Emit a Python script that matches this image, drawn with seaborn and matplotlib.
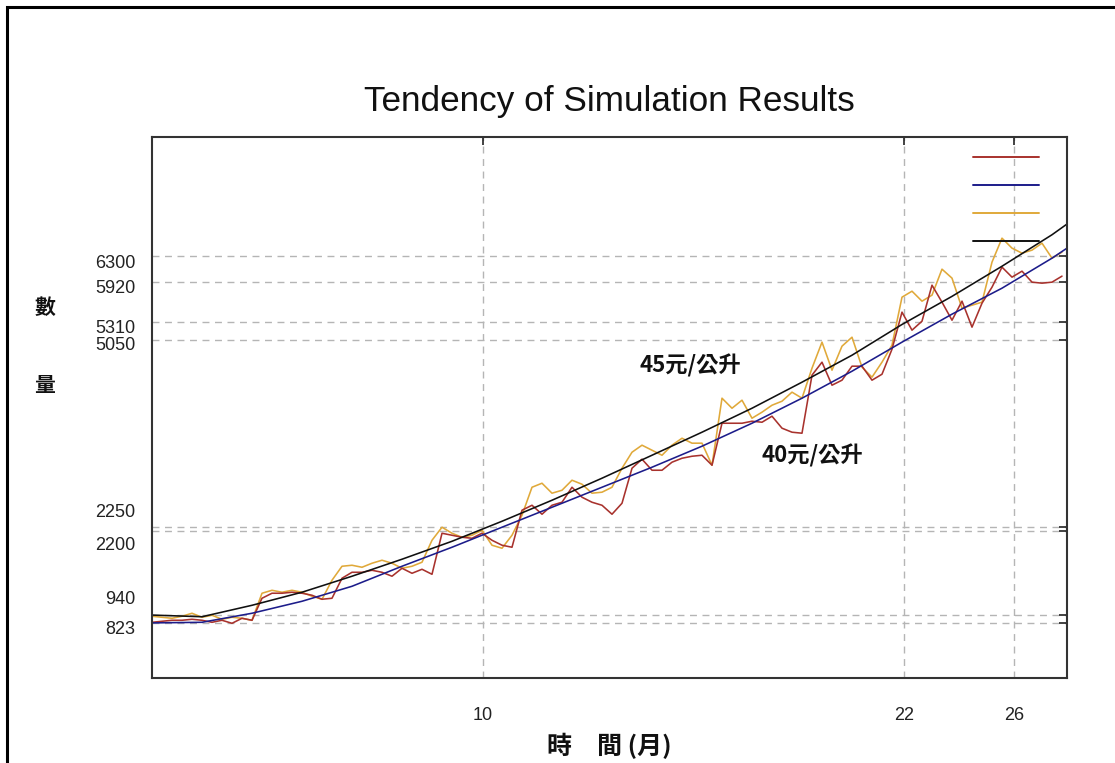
import matplotlib
matplotlib.use("Agg")
import matplotlib.pyplot as plt
import matplotlib.transforms as mtransforms
from matplotlib.lines import Line2D
from matplotlib.patches import Rectangle
import pandas as pd
import seaborn as sns

# time steps of the simulation
steps = list(range(92))

# simulated quantity at 40 and 45 元/公升
sim_40 = [832, 847, 862, 862, 877, 862, 832, 862, 817, 892,
          862, 1191, 1266, 1266, 1281, 1266, 1236, 1176, 1191, 1490,
          1579, 1579, 1609, 1579, 1520, 1639, 1564, 1624, 1549, 2162,
          2132, 2102, 2087, 2162, 2057, 1983, 1953, 2506, 2580, 2446,
          2580, 2625, 2849, 2700, 2625, 2580, 2446, 2610, 3133, 3268,
          3103, 3103, 3223, 3282, 3312, 3327, 3178, 3805, 3805, 3805,
          3835, 3820, 3910, 3731, 3671, 3656, 4523, 4717, 4373, 4448,
          4657, 4657, 4448, 4537, 4911, 5464, 5195, 5329, 5867, 5613,
          5344, 5628, 5240, 5598, 5837, 6136, 5987, 6076, 5912, 5897,
          5912, 6002]
sim_45 = [922, 907, 892, 922, 967, 907, 937, 877, 907, 892,
          862, 1266, 1310, 1281, 1310, 1281, 1221, 1176, 1460, 1669,
          1684, 1654, 1714, 1759, 1714, 1639, 1669, 1729, 2057, 2252,
          2162, 2102, 2132, 2207, 1983, 1938, 2132, 2431, 2849, 2909,
          2760, 2804, 2954, 2894, 2760, 2775, 2849, 3133, 3372, 3477,
          3402, 3327, 3477, 3581, 3507, 3507, 3178, 4179, 4029, 4149,
          3880, 3970, 4074, 4134, 4269, 4179, 4627, 5016, 4597, 4956,
          5090, 4642, 4493, 4717, 4971, 5688, 5777, 5628, 5718, 6106,
          5972, 5523, 5568, 5613, 6211, 6569, 6420, 6345, 6390, 6494,
          6270, 6360]

# fitted tendency curves
trend_steps = [0, 5, 10, 15, 20, 25, 30, 35, 40, 45,
               50, 55, 60, 65, 70, 75, 80, 85, 90, 91.5]
trend_40 = [823, 832, 967, 1146, 1370, 1669, 1953, 2252, 2550, 2849,
            3148, 3462, 3805, 4179, 4582, 5016, 5434, 5822, 6270, 6420]
trend_45 = [940, 915, 1086, 1281, 1520, 1774, 2042, 2341, 2655, 2984,
            3327, 3671, 4029, 4418, 4821, 5280, 5700, 6150, 6620, 6780]

# reference levels and month marks
y_levels = [823, 940, 2200, 2250, 5050, 5310, 5920, 6300]
y_labels = ["823", "940", "2200", "2250", "5050", "5310", "5920", "6300"]
month_steps = [33.1, 75.2, 86.2]
month_labels = ["10", "22", "26"]

COL_RED = "#a8322d"
COL_BLUE = "#1c1c8a"
COL_YELLOW = "#e0a93a"
COL_BLACK = "#101010"

sns.set_theme(style="white")
plt.rcParams["font.family"] = ["Liberation Sans", "Noto Sans CJK TC", "DejaVu Sans"]
CJK = ["Noto Sans CJK TC", "DejaVu Sans"]

fig = plt.figure(figsize=(11.15, 7.63), dpi=100)
fig.patch.set_facecolor("white")
ax = fig.add_axes([152 / 1115, 1 - 678 / 763, 915 / 1115, 541 / 763])

sim = pd.DataFrame({"step": steps, "q40": sim_40, "q45": sim_45})
trend = pd.DataFrame({"step": trend_steps, "t40": trend_40, "t45": trend_45})

sns.lineplot(data=sim, x="step", y="q45", color=COL_YELLOW, lw=1.15, ax=ax)
sns.lineplot(data=sim, x="step", y="q40", color=COL_RED, lw=1.15, ax=ax)
sns.lineplot(data=trend, x="step", y="t45", color=COL_BLACK, lw=1.15, ax=ax)
sns.lineplot(data=trend, x="step", y="t40", color=COL_BLUE, lw=1.15, ax=ax)

ax.set_xlim(0, 91.5)
ax.set_ylim(0, 8080)

ax.set_yticks(y_levels)
ax.set_yticklabels(y_labels)
ax.set_xticks(month_steps)
ax.set_xticklabels(month_labels)

ax.tick_params(axis="both", direction="in", length=6, width=1.2, color="#222222",
               top=True, right=True, labelsize=13, labelcolor="#222222")
ax.tick_params(axis="y", pad=12)
ax.tick_params(axis="x", pad=21)

# spread the crowded y labels apart (pixels, positive = downwards)
label_shift = [5, -18, 12.5, -17, 4, 4, 5, 5]
for lab, d in zip(ax.get_yticklabels(), label_shift):
    lab.set_transform(lab.get_transform() +
                      mtransforms.ScaledTranslation(0, -d / 100, fig.dpi_scale_trans))

ax.grid(True, linestyle=(0, (5, 4)), color="#b5b5b5", lw=1.0)
for sp in ax.spines.values():
    sp.set_visible(True)
    sp.set_color("#333333")
    sp.set_linewidth(1.5)

ax.set_title("Tendency of Simulation Results", fontsize=25.3, pad=19, color="#111111")
ax.set_xlabel("時　間 (月)", family=CJK, fontsize=18, fontweight="bold", labelpad=6,
              color="#111111")
ax.set_ylabel("數\n\n\n量", family=CJK, fontsize=15, fontweight="bold", rotation=0,
              ha="center", va="center", linespacing=1.3, color="#111111")
ax.yaxis.set_label_coords(-0.117, 0.613)

ax.text(53.8, 4656, "45元/公升", family=CJK, fontsize=16, fontweight="bold",
        ha="center", va="center", color="#111111")
ax.text(66, 3312, "40元/公升", family=CJK, fontsize=16, fontweight="bold",
        ha="center", va="center", color="#111111")

handles = [Line2D([], [], color=c, lw=1.4) for c in (COL_RED, COL_BLUE, COL_YELLOW, COL_BLACK)]
ax.legend(handles, [" "] * 4, loc="upper left", bbox_to_anchor=(0.897, 0.975),
          frameon=False, fontsize=10, handlelength=4.8, handletextpad=0.0,
          labelspacing=1.01, borderpad=0.0, borderaxespad=0.0)

# outer frame of the page
fig.patches.append(Rectangle((7 / 1115, -0.1), 1.2, 1 - 7 / 763 + 0.1,
                             transform=fig.transFigure, fill=False, lw=2.2,
                             ec="black", clip_on=False))

fig.savefig("out.png", dpi=100, facecolor="white")
